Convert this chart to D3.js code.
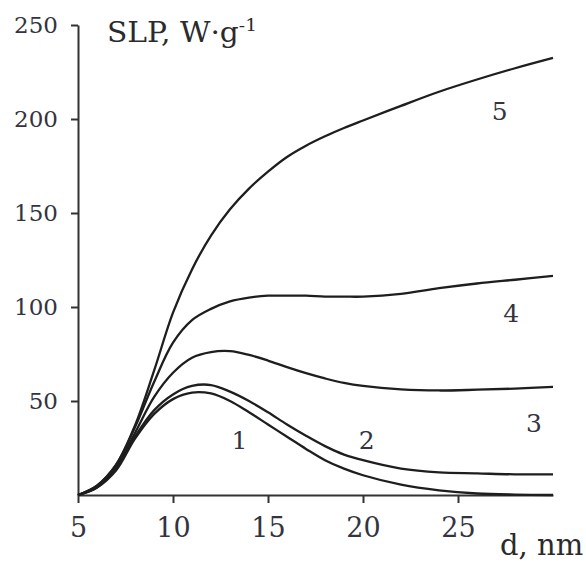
<!DOCTYPE html>
<html lang="en">
<head>
<meta charset="UTF-8">
<style>
  body { margin: 0; background: #fff; }
  svg { display: block; }
  .serif { font-family: "DejaVu Serif", serif; fill: #2b2b2b; }
</style>
<script src="https://d3js.org/d3.v7.min.js"></script>
</head>
<body>
<svg id="chart" width="586" height="563"></svg>
<script>
// particle size d (nm) and SLP (W/g)
const dValues = [5, 6, 7, 8, 9, 10, 11, 12, 13, 14, 15, 16, 17, 18, 19, 20, 22, 24, 26, 28, 30];
const curve1 = [0, 4, 13, 30, 43, 51, 54.5, 54, 50, 44, 37.5, 31, 24.5, 18.5, 14, 10.5, 5.5, 2.5, 0.8, 0.2, 0];
const curve2 = [0, 4, 14, 31, 45, 53.5, 58, 58.5, 55, 50, 44, 37.5, 31.5, 26, 21.5, 18.5, 14, 12, 11.5, 11, 11];
const curve3 = [0, 4.5, 15, 33, 52, 65, 73, 76, 76.5, 74.5, 71.5, 68, 64.8, 62, 59.6, 58, 56.2, 55.6, 56, 56.6, 57.5];
const curve4 = [0, 5, 16, 36, 60, 81, 93, 99, 103, 105, 106, 106, 106, 105.5, 105.5, 105.5, 107, 110, 112.5, 114.5, 116.5];
const curve5 = [0, 5, 16, 37, 66, 97, 120, 138, 152, 163, 172, 179.8, 185.8, 190.8, 195.2, 199.2, 207, 214.5, 221, 227, 232.5];

const curveNames = ["1", "2", "3", "4", "5"];
const labelD = [13.5, 20.2, 29.0, 27.8, 27.2];
const labelV = [24.4, 24.4, 33.4, 91.8, 199.6];

const xTicks = [5, 10, 15, 20, 25];
const yTicks = [50, 100, 150, 200, 250];

const svg = d3.select("#chart");

const x = d3.scaleLinear().domain([5, 30]).range([78, 553]);
const y = d3.scaleLinear().domain([0, 250]).range([495, 25]);

// axes
const yAxis = svg.append("g")
    .attr("transform", "translate(78,0)")
    .attr("color", "#333")
    .call(d3.axisLeft(y).tickValues(yTicks).tickSize(7).tickSizeOuter(0));
yAxis.selectAll("path, line").attr("stroke-width", 2);
yAxis.selectAll("text")
    .attr("class", "serif")
    .attr("font-size", 23)
    .attr("x", -20)
    .style("fill", "#33343f");

const xAxis = svg.append("g")
    .attr("transform", "translate(0,495)")
    .attr("color", "#333")
    .call(d3.axisBottom(x).tickValues(xTicks).tickSize(8).tickSizeOuter(0));
xAxis.selectAll("path, line").attr("stroke-width", 2);
xAxis.selectAll("text")
    .attr("class", "serif")
    .attr("font-size", 27)
    .attr("dy", null)
    .attr("y", 42)
    .style("fill", "#33343f");

// curves
const series = [curve1, curve2, curve3, curve4, curve5];
const line = d3.line()
    .x((v, i) => x(dValues[i]))
    .y(v => y(v))
    .curve(d3.curveCatmullRom.alpha(0.5));

svg.append("g").selectAll("path")
    .data(series)
    .enter()
    .append("path")
    .attr("d", line)
    .attr("fill", "none")
    .attr("stroke", "#1e1e1e")
    .attr("stroke-width", 2.3);

// curve numbers
svg.append("g").selectAll("text")
    .data(curveNames)
    .enter()
    .append("text")
    .attr("class", "serif")
    .attr("x", (n, i) => x(labelD[i]))
    .attr("y", (n, i) => y(labelV[i]))
    .attr("text-anchor", "middle")
    .attr("font-size", 25)
    .style("fill", "#33343f")
    .text(n => n);

// axis titles
const title = svg.append("text")
    .attr("class", "serif")
    .attr("transform", "translate(107,42) scale(1.1,1)")
    .attr("font-size", 27);
title.append("tspan").text("SLP, W·g");
title.append("tspan").attr("font-size", 17).attr("dy", -11).text("-1");

svg.append("text")
    .attr("class", "serif")
    .attr("transform", "translate(500,555)")
    .attr("font-size", 29)
    .text("d, nm");
</script>
</body>
</html>
